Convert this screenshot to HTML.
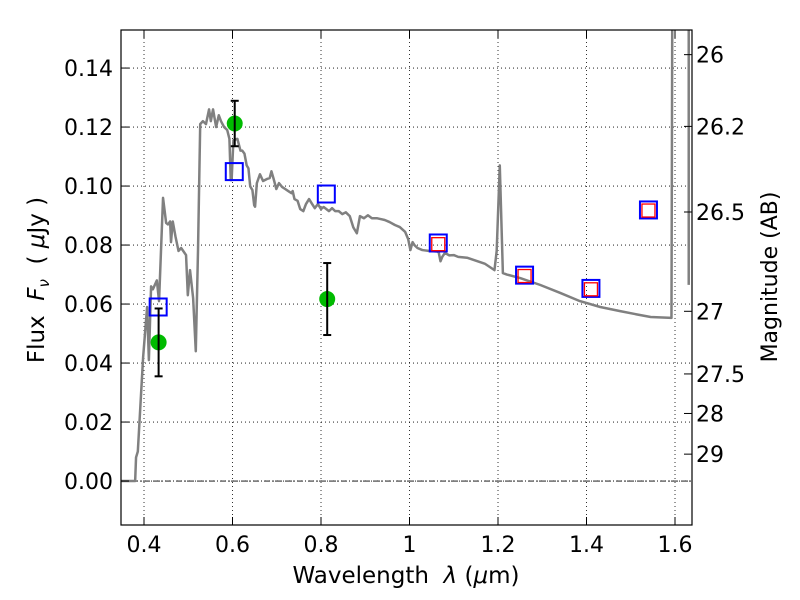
<!DOCTYPE html>
<html><head><meta charset="utf-8"><style>
html,body{margin:0;padding:0;background:#fff;}
svg{display:block;font-family:"DejaVu Sans","Liberation Sans",sans-serif;}
</style></head><body>
<svg id="chart" width="800" height="600" viewBox="0 0 800 600" style="position:absolute;left:0;top:0"></svg>
<script>
const xTicks=[0.4,0.6,0.8,1.0,1.2,1.4,1.6];
const xTickLabels=["0.4","0.6","0.8","1","1.2","1.4","1.6"];
const yTicks=[0,0.02,0.04,0.06,0.08,0.1,0.12,0.14];
const yTickLabels=["0.00","0.02","0.04","0.06","0.08","0.10","0.12","0.14"];
const magTicks=[26,26.2,26.5,27,27.5,28,29];
const magTickLabels=["26","26.2","26.5","27","27.5","28","29"];
const obsWave=[0.433,0.605,0.814];
const obsFlux=[0.047,0.1212,0.0617];
const obsErr=[0.0115,0.0077,0.0122];
const modelWave=[0.432,0.604,0.812,1.065,1.26,1.41,1.54];
const modelFlux=[0.0590,0.1049,0.0973,0.0807,0.0698,0.0653,0.0919];
const redWave=[1.065,1.26,1.41,1.54];
const redFlux=[0.0803,0.0695,0.0650,0.0917];
const sedPoints=[[0.348,0],[0.380,0],[0.382,0.008],[0.386,0.010],[0.398,0.042],[0.407,0.059],[0.411,0.041],[0.416,0.066],[0.420,0.065],[0.429,0.068],[0.434,0.061],[0.443,0.096],[0.450,0.0875],[0.454,0.087],[0.459,0.088],[0.461,0.081],[0.465,0.088],[0.471,0.083],[0.478,0.078],[0.484,0.079],[0.495,0.0766],[0.499,0.063],[0.504,0.0715],[0.511,0.062],[0.517,0.044],[0.522,0.078],[0.527,0.121],[0.533,0.122],[0.540,0.121],[0.547,0.126],[0.551,0.122],[0.556,0.126],[0.563,0.120],[0.569,0.124],[0.574,0.122],[0.581,0.120],[0.588,0.119],[0.593,0.116],[0.596,0.102],[0.598,0.102],[0.602,0.1155],[0.611,0.116],[0.618,0.112],[0.622,0.112],[0.627,0.111],[0.632,0.107],[0.636,0.106],[0.640,0.0999],[0.645,0.0986],[0.649,0.0935],[0.651,0.093],[0.655,0.1010],[0.662,0.104],[0.669,0.1017],[0.678,0.1024],[0.684,0.1027],[0.688,0.105],[0.693,0.1024],[0.699,0.0990],[0.705,0.1010],[0.712,0.0997],[0.719,0.0990],[0.726,0.0983],[0.733,0.0976],[0.736,0.0983],[0.740,0.0956],[0.747,0.0950],[0.753,0.0922],[0.760,0.0915],[0.766,0.0939],[0.773,0.0956],[0.780,0.0939],[0.786,0.0925],[0.793,0.0939],[0.800,0.0922],[0.806,0.0929],[0.818,0.0915],[0.825,0.0925],[0.832,0.0915],[0.840,0.0915],[0.848,0.0905],[0.856,0.0911],[0.865,0.0898],[0.873,0.0860],[0.881,0.084],[0.888,0.0898],[0.897,0.0891],[0.906,0.0901],[0.915,0.0891],[0.926,0.0891],[0.944,0.0885],[0.955,0.0878],[0.967,0.0868],[0.978,0.0861],[0.990,0.0845],[0.997,0.0820],[1.002,0.0783],[1.007,0.0810],[1.011,0.0800],[1.018,0.0790],[1.029,0.0783],[1.045,0.0780],[1.062,0.0778],[1.066,0.0775],[1.070,0.0745],[1.074,0.0760],[1.080,0.0773],[1.090,0.0765],[1.100,0.0766],[1.110,0.0760],[1.130,0.0757],[1.170,0.0737],[1.192,0.0715],[1.197,0.0780],[1.204,0.107],[1.211,0.0705],[1.220,0.0700],[1.250,0.0688],[1.295,0.0665],[1.340,0.0638],[1.385,0.0610],[1.431,0.0590],[1.476,0.0576],[1.510,0.0566],[1.545,0.0556],[1.592,0.0553],[1.594,0.17]];
const sed2Points=[[1.631,0.17],[1.631,0.0665]];

const L=121,R=692,T=30,B=525;
const xmin=0.348,xmax=1.6384,ymin=-0.0149,ymax=0.1529;
const X=v=>L+(v-xmin)/(xmax-xmin)*(R-L);
const Y=v=>B-(v-ymin)/(ymax-ymin)*(B-T);
const magToFlux=m=>Math.pow(10,(23.9-m)/2.5);
const svg=document.getElementById('chart');
const NS='http://www.w3.org/2000/svg';
function mk(tag,attrs,parent){const e=document.createElementNS(NS,tag);for(const k in attrs)e.setAttribute(k,attrs[k]);(parent||svg).appendChild(e);return e;}
const defs=mk('defs',{});
const cp=mk('clipPath',{id:'clip'},defs);mk('rect',{x:L,y:T,width:R-L,height:B-T},cp);

const grid=mk('g',{});


xTicks.forEach(v=>{mk('line',{x1:X(v),x2:X(v),y1:T,y2:B,stroke:'#000','stroke-width':0.8,'stroke-dasharray':'1,3'},grid);});
yTicks.forEach(v=>{mk('line',{x1:L,x2:R,y1:Y(v),y2:Y(v),stroke:'#000','stroke-width':0.8,'stroke-dasharray':'1,3'},grid);});
mk('line',{x1:L,x2:R,y1:Y(0),y2:Y(0),stroke:'#000','stroke-width':0.8,'stroke-dasharray':'6,2,1,2'},grid);

const plot=mk('g',{'clip-path':'url(#clip)'});
const sed=mk('polyline',{points:sedPoints.map(p=>X(p[0])+','+Y(p[1])).join(' '),fill:'none',stroke:'#808080','stroke-width':2.5,'stroke-linejoin':'round'},plot);


const sed2=mk('polyline',{points:sed2Points.map(p=>X(p[0])+','+Y(p[1])).join(' '),fill:'none',stroke:'#808080','stroke-width':2.5},plot);



modelWave.forEach((w,i)=>{const r=mk('rect',{x:X(w)-8.5,y:Y(modelFlux[i])-8.5,width:17,height:17,fill:'none',stroke:'#0000ff','stroke-width':2},plot);

});
redWave.forEach((w,i)=>{const r=mk('rect',{x:X(w)-6.5,y:Y(redFlux[i])-6.5,width:13,height:13,fill:'none',stroke:'#ff0000','stroke-width':1.3},plot);

});
obsWave.forEach((w,i)=>{const g=mk('g',{},plot);


mk('circle',{cx:X(w),cy:Y(obsFlux[i]),r:8,fill:'#00bb00'},g);
const y1=Y(obsFlux[i]+obsErr[i]),y2=Y(obsFlux[i]-obsErr[i]),x=X(w);
mk('line',{x1:x,x2:x,y1:y1,y2:y2,stroke:'#000','stroke-width':2},g);
mk('line',{x1:x-4,x2:x+4,y1:y1,y2:y1,stroke:'#000','stroke-width':2},g);
mk('line',{x1:x-4,x2:x+4,y1:y2,y2:y2,stroke:'#000','stroke-width':2},g);});

const frame=mk('rect',{x:L,y:T,width:R-L,height:B-T,fill:'none',stroke:'#000','stroke-width':1.2});



const xa=mk('g',{});


xTicks.forEach((v,i)=>{mk('line',{x1:X(v),x2:X(v),y1:B,y2:B-8,stroke:'#000'},xa);mk('line',{x1:X(v),x2:X(v),y1:T,y2:T+8,stroke:'#000'},xa);
const t=mk('text',{x:X(v),y:B+27,'font-size':22,'text-anchor':'middle'},xa);t.textContent=xTickLabels[i];});
const ya=mk('g',{});


yTicks.forEach((v,i)=>{mk('line',{x1:L,x2:L+8,y1:Y(v),y2:Y(v),stroke:'#000'},ya);
const t=mk('text',{x:L-8,y:Y(v)+8,'font-size':22,'text-anchor':'end'},ya);t.textContent=yTickLabels[i];});
const ra=mk('g',{});


magTicks.forEach((m,i)=>{const y=Y(magToFlux(m));mk('line',{x1:R,x2:R-8,y1:y,y2:y,stroke:'#000'},ra);
const t=mk('text',{x:R+4,y:y+8,'font-size':22,'text-anchor':'start'},ra);t.textContent=' '+magTickLabels[i];});
</script>
<svg style="position:absolute;left:0;top:0" width="800" height="600">
<text x="406" y="583" font-size="23" text-anchor="middle" font-family="DejaVu Sans, sans-serif" xml:space="preserve">Wavelength  <tspan font-style="italic">λ</tspan> (<tspan font-style="italic">μ</tspan>m)</text>
<text transform="translate(44,280) rotate(-90)" font-size="23" text-anchor="middle" font-family="DejaVu Sans, sans-serif" xml:space="preserve">Flux  <tspan font-style="italic">F</tspan><tspan font-style="italic" font-size="15" dy="5">ν</tspan><tspan dy="-5">  ( </tspan><tspan font-style="italic">μ</tspan>Jy )</text>
<text transform="translate(777,277) rotate(-90)" font-size="22" text-anchor="middle" font-family="DejaVu Sans, sans-serif">Magnitude (AB)</text>
</svg>
</body></html>
